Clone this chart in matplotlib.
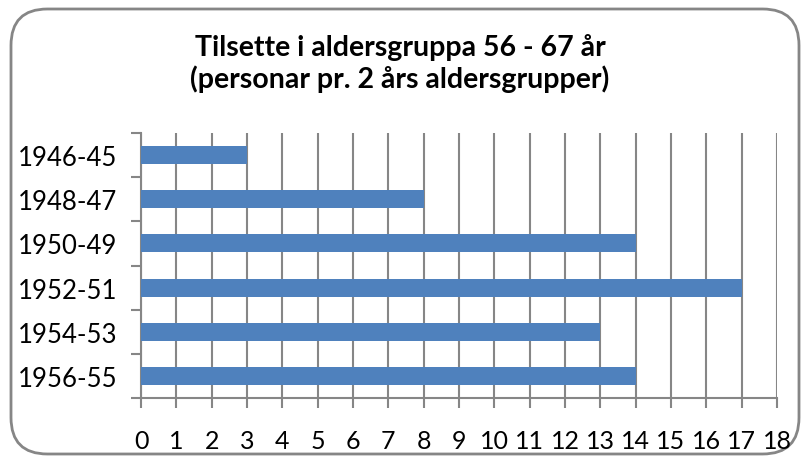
import matplotlib.pyplot as plt
from matplotlib.patches import FancyBboxPatch

# Data
aldersgrupper = ['1946-45', '1948-47', '1950-49', '1952-51', '1954-53', '1956-55']
personar = [3, 8, 14, 17, 13, 14]

plt.rcParams['font.family'] = ['Lato', 'DejaVu Sans']

fig = plt.figure(figsize=(8.09, 4.6), dpi=100)
ax = fig.add_axes([0.1743, 0.1326, 0.7861, 0.5761])

# Rounded frame around the chart
ramme = FancyBboxPatch((11 / 809, 5 / 460), 788 / 809, 445 / 460,
                       boxstyle='round,pad=0,rounding_size=0.045',
                       transform=fig.transFigure, facecolor='white',
                       edgecolor='#868686', linewidth=2, zorder=-1,
                       mutation_aspect=809 / 460)
fig.patches.append(ramme)

pos = list(range(len(aldersgrupper)))
ax.barh(pos, personar, height=0.41, color='#4f81bd', zorder=3)

ax.set_xlim(0, 18)
ax.set_ylim(len(aldersgrupper) - 0.5, -0.5)
ax.set_xticks(range(0, 19))
ax.set_yticks([p - 0.5 for p in range(len(aldersgrupper) + 1)])
ax.set_yticklabels([])
ax.set_yticks(pos, minor=True)
ax.set_yticklabels(aldersgrupper, minor=True)
ax.tick_params(axis='y', which='minor', length=0, pad=17, labelsize=18.5)
ax.tick_params(axis='y', which='major', length=7, width=1.5, color='#868686', direction='out')
ax.tick_params(axis='x', length=7, width=1.5, color='#868686', direction='out', labelsize=18, pad=15)

ax.grid(axis='x', color='#868686', linewidth=1.5, zorder=0)
ax.set_axisbelow(True)
for s in ['top', 'right']:
    ax.spines[s].set_visible(False)
for s in ['left', 'bottom']:
    ax.spines[s].set_color('#868686')
    ax.spines[s].set_linewidth(1.5)

fig.text(0.4945, 0.861, 'Tilsette i aldersgruppa 56 - 67 år\n(personar pr. 2 års aldersgrupper)',
         ha='center', va='center', fontsize=20.5, fontweight='bold', linespacing=1.2)

fig.savefig('out.png', dpi=100)
